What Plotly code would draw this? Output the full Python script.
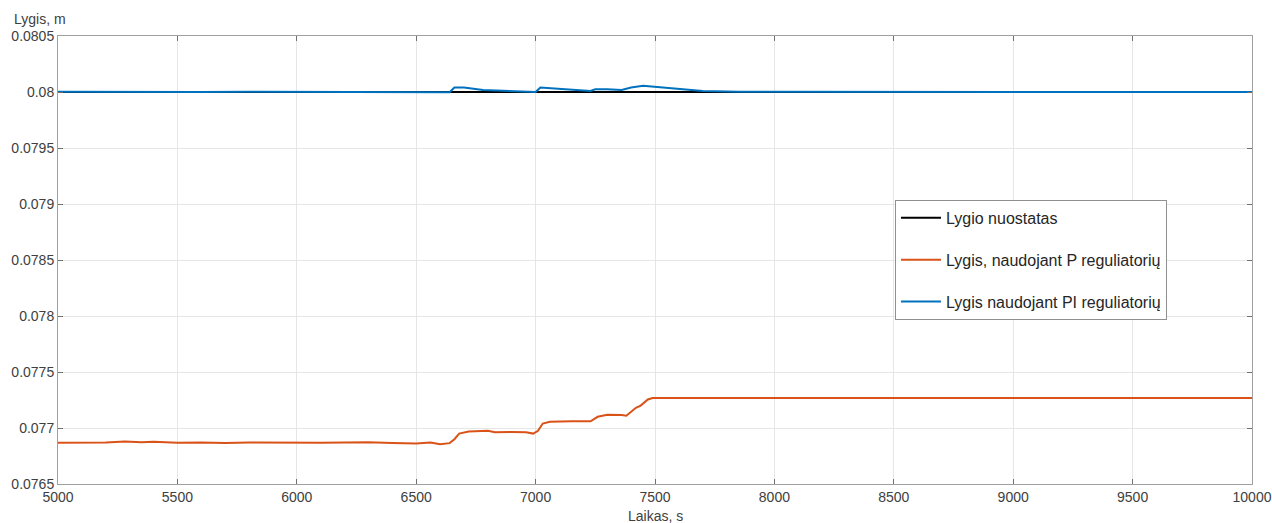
import plotly.graph_objects as go

# ---------------- data ----------------
t_set = [5000, 10000]
y_set = [0.08, 0.08]

t_p = [5000, 5100, 5200, 5280, 5350, 5400, 5500, 5600, 5700, 5800, 5900, 6000,
       6100, 6200, 6300, 6400, 6500, 6560, 6600, 6640, 6660, 6680, 6720, 6800,
       6830, 6900, 6960, 6990, 7010, 7030, 7060, 7150, 7230, 7260, 7300, 7360,
       7380, 7420, 7440, 7470, 7490, 10000]
y_p = [0.076868, 0.076872, 0.076870, 0.076880, 0.076872, 0.076878, 0.076868,
       0.076870, 0.076866, 0.076870, 0.076868, 0.076872, 0.076868, 0.076870,
       0.076872, 0.076866, 0.076862, 0.076870, 0.076855, 0.076865, 0.076900,
       0.076950, 0.076968, 0.076975, 0.076962, 0.076965, 0.076962, 0.076950,
       0.076975, 0.077040, 0.077055, 0.077060, 0.077060, 0.077100, 0.077118,
       0.077115, 0.077110, 0.077180, 0.077200, 0.077255, 0.077268, 0.077268]

t_pi = [5000, 5200, 5400, 5600, 5800, 6000, 6200, 6400, 6600, 6640, 6660, 6700,
        6780, 6900, 7000, 7020, 7060, 7150, 7230, 7250, 7300, 7360, 7400, 7450,
        7500, 7600, 7700, 7850, 10000]
y_pi = [0.080003, 0.080001, 0.080002, 0.079999, 0.080002, 0.080001, 0.080000,
        0.080001, 0.079999, 0.079998, 0.080040, 0.080040, 0.080018, 0.080005,
        0.080000, 0.080040, 0.080035, 0.080018, 0.080010, 0.080025, 0.080025,
        0.080018, 0.080040, 0.080055, 0.080045, 0.080025, 0.080010, 0.080002,
        0.080000]

x_ticks = [5000, 5500, 6000, 6500, 7000, 7500, 8000, 8500, 9000, 9500, 10000]
y_ticks = [0.0765, 0.077, 0.0775, 0.078, 0.0785, 0.079, 0.0795, 0.08, 0.0805]
y_tick_labels = ["0.0765", "0.077", "0.0775", "0.078", "0.0785", "0.079",
                 "0.0795", "0.08", "0.0805"]

names = ["Lygio nuostatas", "Lygis, naudojant P reguliatorių",
         "Lygis naudojant PI reguliatorių"]

# ---------------- figure ----------------
FONT = "Liberation Sans, Arial, Helvetica, sans-serif"
fig = go.Figure()
fig.add_trace(go.Scatter(x=t_set, y=y_set, mode="lines", name=names[0],
                         line=dict(color="#000000", width=2), legendgroup="a"))
fig.add_trace(go.Scatter(x=t_p, y=y_p, mode="lines", name=names[1],
                         line=dict(color="#D95319", width=2), legendgroup="b"))
fig.add_trace(go.Scatter(x=t_pi, y=y_pi, mode="lines", name=names[2],
                         line=dict(color="#0072BD", width=2), legendgroup="c"))

axis_common = dict(showline=True, linecolor="#a0a0a0", linewidth=1, mirror="ticks",
                   ticks="inside", ticklen=5, tickcolor="#707070",
                   showgrid=True, gridcolor="#e6e6e6", gridwidth=1,
                   zeroline=False, automargin=False,
                   tickfont=dict(family=FONT, size=14, color="#404040"))

fig.update_xaxes(range=[5000, 10000], tickvals=x_ticks,
                 ticktext=[str(v) for v in x_ticks], **axis_common)
fig.update_yaxes(range=[0.0765, 0.0805], tickvals=y_ticks,
                 ticktext=y_tick_labels, **axis_common)

fig.update_layout(
    width=1272, height=523,
    margin=dict(l=58, r=20, t=36, b=39, autoexpand=False),
    plot_bgcolor="white", paper_bgcolor="white",
    font=dict(family=FONT, size=14, color="#404040"),
    legend=dict(x=0.701, y=0.634, xanchor="left", yanchor="top",
                bgcolor="white", bordercolor="#909090", borderwidth=1,
                font=dict(family=FONT, size=16, color="#262626"),
                tracegroupgap=18, itemwidth=40),
    showlegend=True,
    annotations=[
        dict(text="Lygis, m", xref="paper", yref="paper", x=-0.015, y=1.0,
             xanchor="center", yanchor="bottom", yshift=7, showarrow=False,
             font=dict(family=FONT, size=14, color="#404040")),
        dict(text="Laikas, s", xref="paper", yref="paper", x=0.5, y=0,
             xanchor="center", yanchor="top", yshift=-22, showarrow=False,
             font=dict(family=FONT, size=14, color="#404040")),
    ],
)

fig.write_html(
    "out.html",
    config={"displayModeBar": False},
    post_script="document.body.style.margin='0';document.body.style.overflow='hidden';",
)
